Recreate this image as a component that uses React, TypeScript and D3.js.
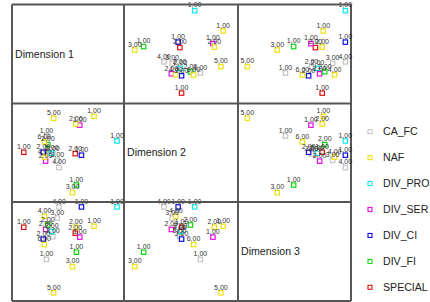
import React from "react";
import * as d3 from "d3";

const dimensionNames = ["Dimension 1", "Dimension 2", "Dimension 3"];
const categories = ["CA_FC", "NAF", "DIV_PRO", "DIV_SER", "DIV_CI", "DIV_FI", "SPECIAL"];
const categoryColors = ["#c4c4c4", "#f0e010", "#10e8e8", "#e810e8", "#1010e0", "#10d810", "#e01010"];

const pointCategory = [2, 1, 1, 5, 4, 6, 3, 1, 1, 0, 0, 0, 2, 4, 3, 5, 1, 1, 0, 6];
const pointLabel = ["1,00", "1,00", "3,00", "1,00", "1,00", "2,00", "1,00", "2,00", "5,00", "4,00", "3,00", "2,00", "2,00", "2,00", "2,00", "2,00", "6,00", "4,00", "1,00", "1,00"];
const dim1 = [1.75, 0.93, 0.16, 0.3, 0.48, 0.26, 0.42, 0.28, -0.51, -0.32, -0.38, -0.54, -0.58, -0.88, -0.8, -0.72, -0.85, -0.84, -0.77, -1.58];
const dim2 = [0.48, 1.48, -1.62, -1.31, -0.1, -0.04, 1.12, 1.17, 1.4, -0.6, -0.31, -0.05, -0.02, 0.02, -0.34, 0.33, 0.44, -0.18, 0.68, 0.02];
const dim3 = [1.8, 1.02, -0.61, -0.03, 1.8, 0.74, 0.58, 0.98, -1.67, 1.8, 1.35, 0.6, 0.81, 0.5, 0.89, 1.07, 0.28, 1.42, -0.32, 0.98];

const dims = [dim1, dim2, dim3];
const colX = [12, 124, 238, 351];
const rowY = [4.5, 103.5, 202, 301];
const FONT = "'Liberation Sans', Arial, sans-serif";

export default function App() {
  const cells: React.ReactNode[] = [];
  for (let r = 0; r < 3; r++) {
    for (let c = 0; c < 3; c++) {
      if (r === c) {
        cells.push(
          <text key={`d${r}`} x={colX[c] + 3} y={(rowY[r] + rowY[r + 1]) / 2} dy="0.35em"
            fontSize={10.6} fontFamily={FONT} fill="#222">{dimensionNames[r]}</text>
        );
        continue;
      }
      const xs = d3.scaleLinear().domain([-2, 2]).range([colX[c], colX[c + 1]]);
      const ys = d3.scaleLinear().domain([-2, 2]).range([rowY[r + 1], rowY[r]]);
      const xv = dims[c];
      const yv = dims[r];
      const idx = d3.range(xv.length);
      cells.push(
        <g key={`c${r}${c}`}>
          {idx.map((i) => (
            <rect key={`p${i}`} x={xs(xv[i]) - 2.2} y={ys(yv[i]) - 2.2} width={4.4} height={4.4}
              fill="white" stroke={categoryColors[pointCategory[i]]} strokeWidth={1.2} />
          ))}
          {idx.map((i) => (
            <text key={`t${i}`} x={xs(xv[i])} y={ys(yv[i]) - 3.2} textAnchor="middle"
              fontSize={7} fontFamily={FONT} fill="#333">{pointLabel[i]}</text>
          ))}
        </g>
      );
    }
  }

  const legendY = d3.scaleLinear().domain([0, categories.length - 1]).range([131.7, 287.3]);

  return (
    <svg width={430} height={302} style={{ position: "absolute", left: 0, top: 0, background: "white" }}>
      {cells}
      {colX.map((x, i) => (
        <line key={`v${i}`} x1={x} x2={x} y1={rowY[0]} y2={rowY[3]} stroke="#111" strokeWidth={1.4} />
      ))}
      {rowY.map((y, i) => (
        <line key={`h${i}`} x1={colX[0]} x2={colX[3]} y1={y} y2={y} stroke="#555" strokeWidth={2} />
      ))}
      {categories.map((cat, i) => (
        <g key={cat}>
          <rect x={368} y={legendY(i) - 2} width={4} height={4} fill="white"
            stroke={categoryColors[i]} strokeWidth={1.1} />
          <text x={383} y={legendY(i)} dy="0.35em" fontSize={10.6} fontFamily={FONT} fill="#222">{cat}</text>
        </g>
      ))}
    </svg>
  );
}
